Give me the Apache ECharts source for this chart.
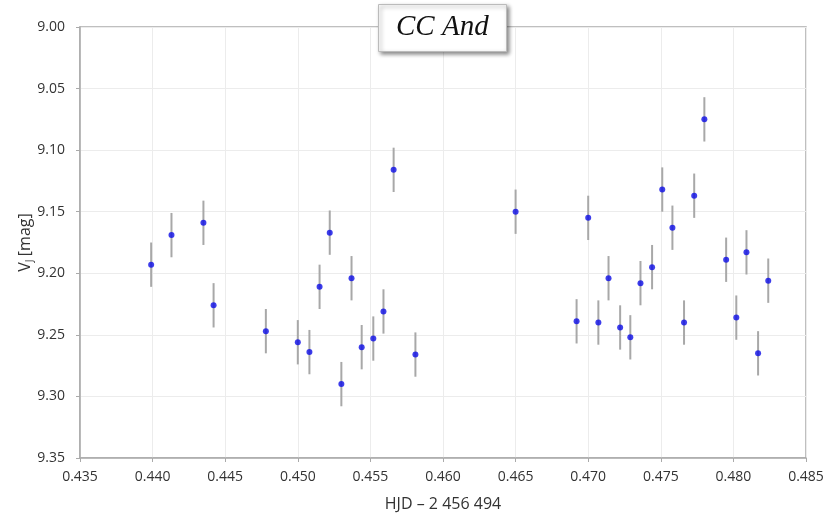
<!DOCTYPE html>
<html lang="en">
<head>
  <meta charset="UTF-8">
  <title>CC And</title>
  <style>
    html,body{margin:0;padding:0;background:#fff;}
    #main{width:828px;height:515px;}
  </style>
</head>
<body>
  <div id="main"></div>
  <script src="https://cdn.jsdelivr.net/npm/echarts@6/dist/echarts.min.js"></script>
  <script>
    // HJD - 2456494 and V_J magnitudes
    const hjd=[0.4399,0.4413,0.4435,0.4442,0.4478,0.4500,0.4508,0.4515,0.4522,0.4530,
      0.4537,0.4544,0.4552,0.4559,0.4566,0.4581,0.4650,0.4692,0.4700,0.4707,
      0.4714,0.4722,0.4729,0.4736,0.4744,0.4751,0.4758,0.4766,0.4773,0.4780,
      0.4795,0.4802,0.4809,0.4817,0.4824];
    const mag=[9.193,9.169,9.159,9.226,9.247,9.256,9.264,9.211,9.167,9.290,
      9.204,9.260,9.253,9.231,9.116,9.266,9.150,9.239,9.155,9.240,
      9.204,9.244,9.252,9.208,9.195,9.132,9.163,9.240,9.137,9.075,
      9.189,9.236,9.183,9.265,9.206];
    const err=[0.018,0.018,0.018,0.018,0.018,0.018,0.018,0.018,0.018,0.018,
      0.018,0.018,0.018,0.018,0.018,0.018,0.018,0.018,0.018,0.018,
      0.018,0.018,0.018,0.018,0.018,0.018,0.018,0.018,0.018,0.018,
      0.018,0.018,0.018,0.018,0.018];
    const xTicks={min:0.435,max:0.485,interval:0.005};
    const yTicks={min:9.00,max:9.35,interval:0.05};

    const points=hjd.map((x,i)=>[x,mag[i]]);
    const bars=hjd.map((x,i)=>[x,mag[i]-err[i],mag[i]+err[i]]);

    const chart=echarts.init(document.querySelector('#main'));
    const labelFont={color:'#333',fontSize:14,fontFamily:'Open Sans'};
    const option={
      animation:false,
      title:{
        text:'CC And',
        left:378,
        top:4,
        padding:[9,18,10,18],
        backgroundColor:'#fff',
        borderColor:'#bbb',
        borderWidth:1,
        shadowColor:'rgba(0,0,0,0.45)',
        shadowBlur:4,
        shadowOffsetX:2,
        shadowOffsetY:2,
        textStyle:{fontFamily:'Liberation Serif',fontStyle:'italic',fontWeight:'normal',fontSize:29,color:'#111'}
      },
      grid:{left:80,right:22,top:27,bottom:57,show:true,borderColor:'#aaa',borderWidth:1.5,outerBoundsMode:'none'},
      xAxis:{
        type:'value',min:xTicks.min,max:xTicks.max,interval:xTicks.interval,
        name:'HJD – 2 456 494',nameLocation:'middle',nameGap:38,nameMoveOverlap:false,
        nameTextStyle:{color:'#333',fontSize:16,fontFamily:'Open Sans'},
        axisLine:{lineStyle:{color:'#aaa',width:1.5}},
        axisTick:{show:true,length:4,lineStyle:{color:'#aaa'}},
        axisLabel:Object.assign({margin:12,formatter:v=>v.toFixed(3)},labelFont),
        splitLine:{lineStyle:{color:'#ececec'}}
      },
      yAxis:{
        type:'value',inverse:true,min:yTicks.min,max:yTicks.max,interval:yTicks.interval,
        name:'{v|V}{s|J} {v|[mag]}',nameLocation:'middle',nameGap:47,nameMoveOverlap:false,
        nameTextStyle:{rich:{v:{color:'#333',fontSize:16,fontFamily:'Open Sans'},s:{color:'#333',fontSize:10,fontFamily:'Open Sans',verticalAlign:'bottom',padding:[0,0,-2,0]}}},
        axisLine:{show:true,lineStyle:{color:'#aaa',width:1.5}},
        axisTick:{show:true,length:4,lineStyle:{color:'#aaa'}},
        axisLabel:Object.assign({margin:15,formatter:v=>v.toFixed(2)},labelFont),
        splitLine:{lineStyle:{color:'#ececec'}}
      },
      series:[
        {
          type:'custom',
          data:bars,
          renderItem:function(params,api){
            const top=api.coord([api.value(0),api.value(1)]);
            const bot=api.coord([api.value(0),api.value(2)]);
            return {type:'line',shape:{x1:top[0],y1:top[1],x2:bot[0],y2:bot[1]},style:{stroke:'#a8a8a8',lineWidth:2}};
          },
          z:2
        },
        {
          type:'scatter',
          data:points,
          symbol:'circle',
          symbolSize:6,
          itemStyle:{color:'#0c0ce6'},
          z:3
        }
      ]
    };
    chart.setOption(option);
  </script>
</body>
</html>
